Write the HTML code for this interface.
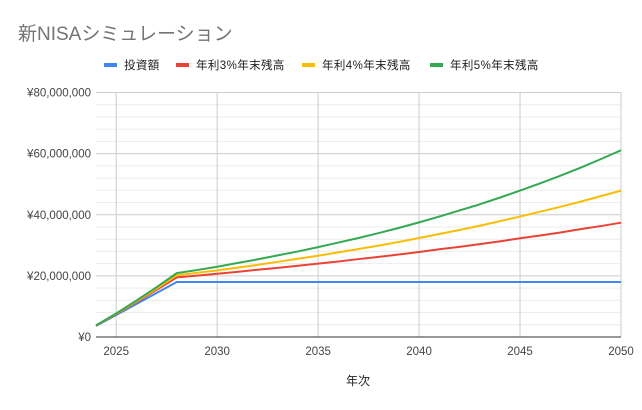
<!DOCTYPE html>
<html><head><meta charset="utf-8"><style>
body{margin:0;background:#fff;}
svg{display:block;font-family:"Liberation Sans","Noto Sans CJK JP",sans-serif;}
</style></head><body>
<svg id="chart" width="642" height="410" viewBox="0 0 642 410" xmlns="http://www.w3.org/2000/svg">
<rect width="642" height="410" fill="#fff"/>
<text x="18" y="40" font-size="19" fill="#757575">新NISAシミュレーション</text>
<g id="legend"></g>
<g id="grid"></g>
<g id="axes"></g>
<g id="series"></g>
<text x="358" y="385" font-size="12" fill="#222" text-anchor="middle">年次</text>
</svg>
<script>
const years=[2024,2025,2026,2027,2028,2029,2030,2031,2032,2033,2034,2035,2036,2037,2038,2039,2040,2041,2042,2043,2044,2045,2046,2047,2048,2049,2050];
const invest=[3.6,7.2,10.8,14.4,18,18,18,18,18,18,18,18,18,18,18,18,18,18,18,18,18,18,18,18,18,18,18];
const rate3=[3.7,7.5,11.4,15.4,19.5,20.1,20.7,21.3,22.0,22.6,23.3,24.0,24.7,25.5,26.2,27.0,27.8,28.7,29.5,30.4,31.3,32.3,33.2,34.2,35.3,36.3,37.4];
const rate4=[3.7,7.6,11.6,15.8,20.2,21.0,21.8,22.7,23.6,24.6,25.6,26.6,27.7,28.8,29.9,31.1,32.4,33.7,35.0,36.4,37.9,39.4,41.0,42.6,44.3,46.1,47.9];
const rate5=[3.8,7.7,11.9,16.3,20.9,21.9,23.0,24.2,25.4,26.7,28.0,29.4,30.9,32.4,34.0,35.7,37.5,39.4,41.4,43.4,45.6,47.9,50.3,52.8,55.4,58.2,61.1];
const yTicks=[0,20,40,60,80];
const yTickLabels=["¥0","¥20,000,000","¥40,000,000","¥60,000,000","¥80,000,000"];
const xTicks=[2025,2030,2035,2040,2045,2050];
const seriesNames=["投資額","年利3%年末残高","年利4%年末残高","年利5%年末残高"];
const seriesColors=["#4285f4","#ea4335","#fbbc04","#34a853"];
const seriesData=[invest,rate3,rate4,rate5];

const NS="http://www.w3.org/2000/svg";
const L=96,R=621,T=92.5,B=337;
const X=v=>L+(v-2024)/(2050-2024)*(R-L);
const Y=v=>B-v/80*(B-T);
function mk(tag,attrs,parent){const e=document.createElementNS(NS,tag);for(const k in attrs)e.setAttribute(k,attrs[k]);parent.appendChild(e);return e;}
const grid=document.getElementById('grid'),axes=document.getElementById('axes'),ser=document.getElementById('series'),leg=document.getElementById('legend');
for(let v=0;v<=80;v+=4){if(v%20===0)continue;const l=mk('line',{x1:L,x2:R,y1:Y(v),y2:Y(v),stroke:'#ececec','stroke-width':1},grid);

}
yTicks.forEach((v,i)=>{if(v>0){const l=mk('line',{x1:L,x2:R,y1:Y(v),y2:Y(v),stroke:'#cccccc','stroke-width':1},grid);

}
const t=mk('text',{x:L-5,y:Y(v)+4,'font-size':11.5,fill:'#444','text-anchor':'end'},axes);t.textContent=yTickLabels[i];

});
xTicks.forEach(v=>{const l=mk('line',{x1:X(v),x2:X(v),y1:T,y2:B,stroke:'#cccccc','stroke-width':1},grid);


const t=mk('text',{x:X(v),y:B+18,'font-size':11.5,fill:'#444','text-anchor':'middle'},axes);t.textContent=v;

});
const ax=mk('line',{x1:L,x2:R,y1:B,y2:B,stroke:'#333','stroke-width':1},axes);


seriesData.forEach((d,i)=>{const p=mk('polyline',{points:d.map((v,j)=>X(years[j])+','+Y(v)).join(' '),fill:'none',stroke:seriesColors[i],'stroke-width':2,'stroke-linejoin':'round'},ser);

});
const legX=[104,176,302,430];
seriesNames.forEach((n,i)=>{const g=mk('g',{},leg);


mk('rect',{x:legX[i],y:63,width:13,height:4,fill:seriesColors[i]},g);
const t=mk('text',{x:legX[i]+20,y:69,'font-size':11.5,fill:'#222','letter-spacing':'0.4'},g);t.textContent=n;});
</script>
</body></html>
